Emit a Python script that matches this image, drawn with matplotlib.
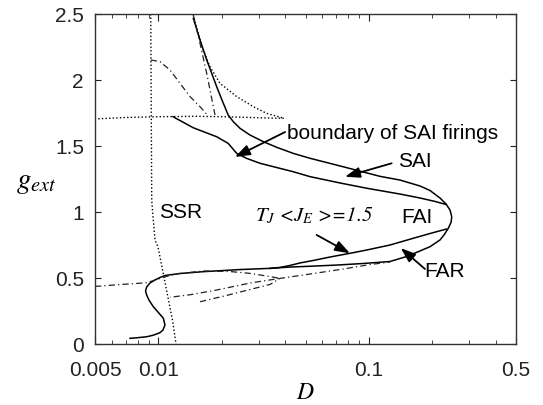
"""
Phase diagram in the (D, g_ext) plane: SSR / SAI / FAI / FAR regions.
"""

import matplotlib
matplotlib.use("Agg")
import matplotlib.pyplot as plt
from matplotlib.ticker import FixedLocator, NullFormatter

plt.rcParams["font.family"] = ["Liberation Sans", "DejaVu Sans"]
plt.rcParams["mathtext.fontset"] = "stix"

# ---- curves (D, g_ext) -----------------------------------------
# outer solid boundary: top -> nose -> lower branch -> S-bend near D~0.01
outer_D = [0.01466, 0.01577, 0.01697, 0.01893, 0.02006, 0.02146, 0.0227, 0.02442,
           0.02725, 0.0315, 0.0365, 0.04375, 0.0525, 0.0754, 0.113, 0.1406, 0.175,
           0.1951, 0.2177, 0.2325, 0.2429, 0.2475, 0.246, 0.2385, 0.2275, 0.2177,
           0.1951, 0.175, 0.1513, 0.126, 0.0941, 0.0703, 0.0525, 0.0422, 0.0339,
           0.02442, 0.01635, 0.01267, 0.01075, 0.01018, 0.00964, 0.00912, 0.0088,
           0.00869, 0.0088, 0.00902, 0.00946, 0.00996, 0.01056, 0.01075, 0.01052,
           0.01018, 0.00943, 0.0088, 0.0080, 0.00733]
outer_g = [2.467, 2.303, 2.152, 1.949, 1.848, 1.735, 1.684, 1.634,
           1.583, 1.533, 1.490, 1.444, 1.407, 1.343, 1.27, 1.242, 1.197,
           1.163, 1.106, 1.061, 1.015, 0.965, 0.924, 0.877, 0.826, 0.788,
           0.737, 0.705, 0.663, 0.625, 0.61, 0.598, 0.589, 0.583, 0.573,
           0.564, 0.548, 0.534, 0.519, 0.504, 0.485, 0.462, 0.432,
           0.401, 0.371, 0.333, 0.283, 0.242, 0.195, 0.144, 0.106,
           0.086, 0.066, 0.055, 0.048, 0.043]

# boundary of SAI firings
inner_D = [0.01173, 0.01466, 0.01893, 0.02146, 0.02356, 0.02629, 0.0304,
           0.04375, 0.0525, 0.0729, 0.0977, 0.1406, 0.175, 0.2062, 0.2325]
inner_g = [1.722, 1.638, 1.570, 1.520, 1.444, 1.406, 1.369,
           1.305, 1.268, 1.220, 1.180, 1.136, 1.106, 1.080, 1.057]

# T_J <J_E> = 1.5
tj_D = [0.2338, 0.1951, 0.1626, 0.126, 0.0977, 0.0813, 0.0654, 0.0545,
        0.0471, 0.0422, 0.0378, 0.0339]
tj_g = [0.871, 0.837, 0.801, 0.750, 0.712, 0.687, 0.659, 0.633,
        0.614, 0.595, 0.580, 0.573]

# SSR boundary (dotted, nearly vertical)
ssr_D = [0.0092, 0.0093, 0.0094, 0.00964, 0.00996, 0.01063, 0.0111, 0.0117, 0.01213]
ssr_g = [2.5, 1.09, 0.99, 0.788, 0.735, 0.508, 0.356, 0.17, 0.0]

# dotted: horizontal branch then curved branch up to the top
dot_D = [0.00518, 0.007, 0.010, 0.015, 0.020, 0.025, 0.030, 0.035, 0.0395,
         0.0327, 0.02825, 0.02356, 0.01962, 0.01759, 0.01635, 0.01548, 0.01466]
dot_g = [1.706, 1.716, 1.722, 1.725, 1.722, 1.718, 1.714, 1.711, 1.710,
         1.747, 1.798, 1.874, 1.975, 2.10, 2.227, 2.35, 2.49]

# dash-dot curves
dda_D = [0.0092, 0.01018, 0.01135, 0.01267, 0.01414, 0.01577, 0.01727]
dda_g = [2.152, 2.139, 2.076, 1.975, 1.874, 1.798, 1.727]
ddb_D = [0.01466, 0.01577, 0.01697, 0.01858]
ddb_g = [2.492, 2.278, 2.05, 1.735]
ddp_D = [0.005, 0.00681, 0.0088, 0.01056, 0.012, 0.01635, 0.0219, 0.02725, 0.0339,
         0.0378, 0.02725, 0.01893, 0.01414, 0.01135]
ddp_g = [0.436, 0.452, 0.464, 0.505, 0.530, 0.553, 0.549, 0.535, 0.511,
         0.497, 0.462, 0.409, 0.373, 0.354]
ddq_D = [0.01577, 0.02073, 0.02725, 0.0339, 0.0378, 0.0471, 0.0729, 0.1013, 0.126]
ddq_g = [0.320, 0.365, 0.413, 0.451, 0.497, 0.519, 0.564, 0.602, 0.621]

x_major = [0.005, 0.01, 0.1, 0.5]
x_major_labels = ["0.005", "0.01", "0.1", "0.5"]
x_minor = [0.006, 0.007, 0.008, 0.009, 0.02, 0.03, 0.04, 0.05, 0.06, 0.07,
           0.08, 0.09, 0.2, 0.3, 0.4]
y_ticks = [0, 0.5, 1, 1.5, 2, 2.5]
y_labels = ["0", "0.5", "1", "1.5", "2", "2.5"]

FS = 15
DOTS = (1, 1.6)
DASHDOT = (5, 2.5, 1, 2.5)

fig = plt.figure(figsize=(5.43, 4.05), dpi=100)
ax = fig.add_axes([95 / 543, 1 - 344 / 405, 421 / 543, 330 / 405])

ax.plot(outer_D, outer_g, "k-", lw=1.1)
ax.plot(inner_D, inner_g, "k-", lw=1.1)
ax.plot(tj_D, tj_g, "k-", lw=1.1)
ax.plot(ssr_D, ssr_g, "k", lw=1.0, dashes=DOTS)
ax.plot(dot_D, dot_g, "k", lw=1.0, dashes=DOTS)
for xs, ys in [(dda_D, dda_g), (ddb_D, ddb_g), (ddp_D, ddp_g), (ddq_D, ddq_g)]:
    ax.plot(xs, ys, color="#222222", lw=0.9, dashes=DASHDOT)

ax.set_xscale("log")
ax.set_xlim(0.005, 0.5)
ax.set_ylim(0, 2.5)
ax.xaxis.set_major_locator(FixedLocator(x_major))
ax.set_xticklabels(x_major_labels)
ax.xaxis.set_minor_locator(FixedLocator(x_minor))
ax.xaxis.set_minor_formatter(NullFormatter())
ax.set_yticks(y_ticks)
ax.set_yticklabels(y_labels)
ax.tick_params(which="both", direction="in", top=True, right=True,
               labelsize=FS, colors="#222222")
ax.tick_params(axis="x", which="major", length=5, pad=12)
ax.tick_params(axis="x", which="minor", length=3)
ax.tick_params(axis="y", length=4, pad=8)
for s in ax.spines.values():
    s.set_color("#333333")
    s.set_linewidth(1.0)

ax.set_xlabel(r"$D$", fontsize=17, labelpad=2)
ax.text(-0.14, 0.49, r"$g_{ext}$", transform=ax.transAxes, fontsize=21,
        ha="center", va="center")

# region labels
ax.text(0.01281, 1.0, "SSR", fontsize=FS, ha="center", va="center")
ax.text(0.041, 1.598, "boundary of SAI firings", fontsize=FS, ha="left", va="center")
ax.text(0.1375, 1.379, "SAI", fontsize=FS, ha="left", va="center")
ax.text(0.1693, 0.958, "FAI", fontsize=FS, ha="center", va="center")
ax.text(0.1828, 0.553, "FAR", fontsize=FS, ha="left", va="center")
ax.text(0.02878, 0.97, r"$T_J$ <$J_E$ >=1.5", fontsize=FS, ha="left", va="center",
        family="STIXGeneral", style="italic")

arrow = dict(arrowstyle="-|>,head_length=0.45,head_width=0.16", color="k",
             lw=1.3, mutation_scale=20, shrinkA=0, shrinkB=0)
for tip, tail in [((0.02312, 1.417), (0.0400, 1.606)),
                  ((0.0770, 1.267), (0.1283, 1.369)),
                  ((0.0813, 0.687), (0.0565, 0.826)),
                  ((0.1417, 0.727), (0.1848, 0.568))]:
    ax.annotate("", xy=tip, xytext=tail, arrowprops=arrow)

fig.savefig("out.png", dpi=100)
